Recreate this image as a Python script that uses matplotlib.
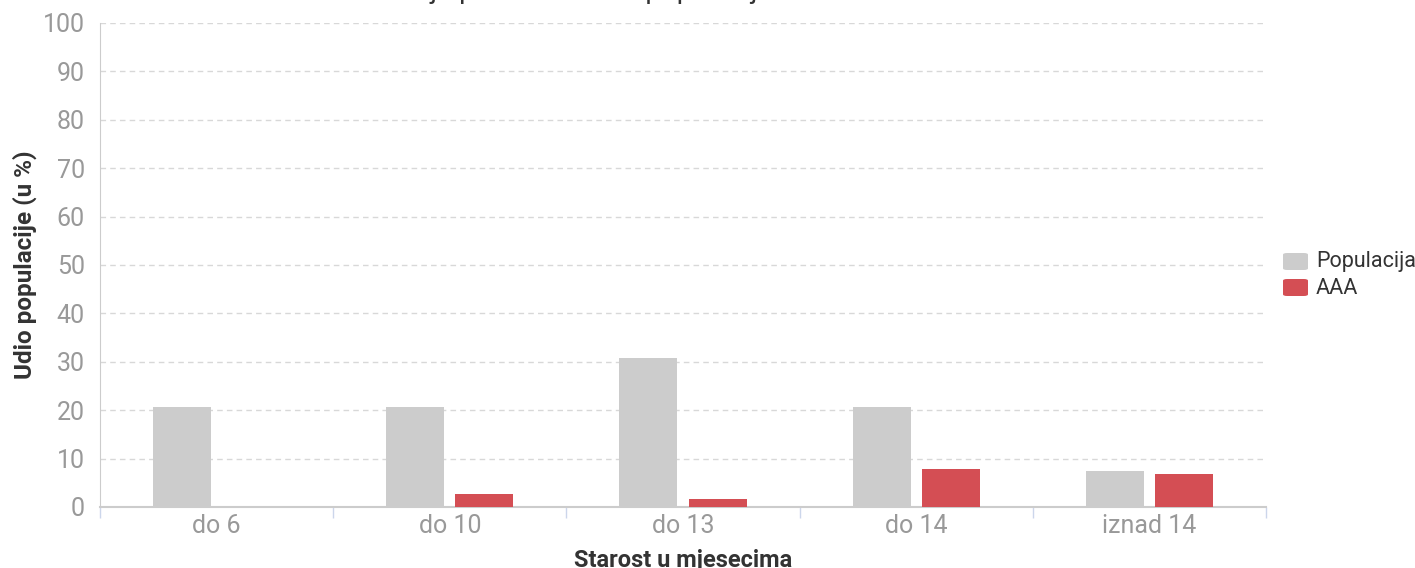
import numpy as np
import matplotlib
matplotlib.use("Agg")
from matplotlib import pyplot as plt
from matplotlib.patches import FancyBboxPatch

categories = ["do 6", "do 10", "do 13", "do 14", "iznad 14"]
populacija = [20.7, 20.7, 30.8, 20.7, 7.4]
aaa = [0.0, 2.7, 1.6, 7.9, 6.8]
series_names = ["Populacija", "AAA"]
yticks = list(range(0, 101, 10))

plt.rcParams['font.family'] = ['Roboto', 'DejaVu Sans']

fig = plt.figure(figsize=(14.15, 5.68), dpi=100)
ax = fig.add_axes([100/1415, 1-507/568, 1166/1415, 484/568])

x = np.arange(len(categories))
w = 0.249
off = 0.1485
ax.bar(x - off, populacija, width=w, color='#cccccc', zorder=3)
ax.bar(x + off, aaa, width=w, color='#d44e54', zorder=3)

ax.set_xlim(-0.5, len(categories) - 0.5)
ax.set_ylim(0, 100)
ax.set_yticks(yticks)
ax.yaxis.grid(True, linestyle=(0, (4, 3)), color='#d8d8d8', linewidth=1, zorder=0)
ax.tick_params(axis='y', length=0, labelsize=18, labelcolor='#999999', pad=11)

ax.set_xticks(x)
ax.set_xticklabels(categories)
ax.tick_params(axis='x', length=0, labelsize=18, labelcolor='#999999', pad=5)
ax.set_xticks(np.arange(len(categories) + 1) - 0.5, minor=True)
ax.tick_params(axis='x', which='minor', length=8, color='#ccd6eb', width=1)

for s in ['top', 'right']:
    ax.spines[s].set_visible(False)
ax.spines['left'].set_color('#cccccc')
ax.spines['bottom'].set_color('#cccccc')
ax.spines['bottom'].set_linewidth(1.5)

ax.set_ylabel("Udio populacije (u %)", fontsize=17.5, fontweight='bold', color='#333333', labelpad=4)
ax.set_xlabel("Starost u mjesecima", fontsize=17, fontweight='bold', color='#333333', labelpad=8)

# title cut off at the top of the image
fig.text(0.41, 1.004, "Distribucija prema starosti populacije i AAA", ha='center', va='baseline',
         fontsize=20, color='#333333')

# legend
colors = ['#cccccc', '#d44e54']
for i, (name, c) in enumerate(zip(series_names, colors)):
    yc = 1 - (262 + 26*i)/568
    box = FancyBboxPatch((1283/1415, yc - 8/568), 25/1415, 17/568,
                         boxstyle="round,pad=0,rounding_size=0.003",
                         transform=fig.transFigure, facecolor=c, edgecolor='none')
    fig.patches.append(box)
    fig.text(1316/1415, yc, name, ha='left', va='center', fontsize=15.5, color='#333333')

fig.savefig("out.png", dpi=100)
